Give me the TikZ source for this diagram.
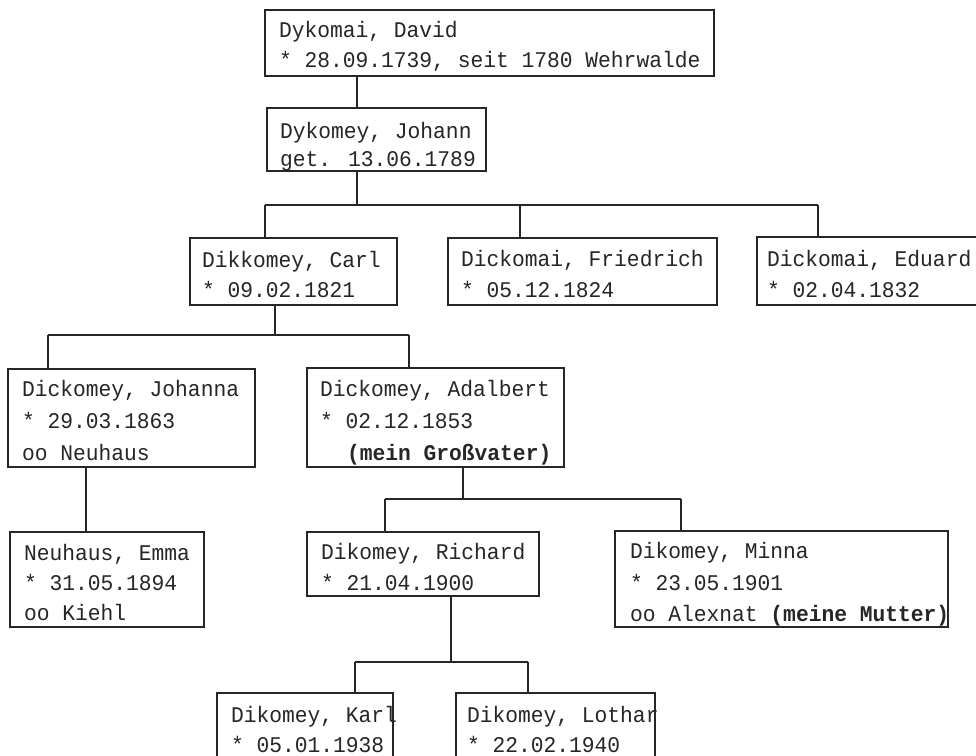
\documentclass[tikz,border=0pt]{standalone}
\usepackage{fontspec}
\newfontfamily\tw[FakeStretch=0.95]{Liberation Mono}
\definecolor{ink}{RGB}{38,38,38}
\tikzset{
  pbox/.style={draw=ink, line width=1.8pt, inner sep=0pt, outer sep=0pt, anchor=north west},
  txt/.style={anchor=base west, inner sep=0pt, outer sep=0pt, text=ink, font=\tw\fontsize{22.4}{26}\selectfont},
  link/.style={draw=ink, line width=1.8pt}
}
\begin{document}
\begin{tikzpicture}[x=1pt,y=-1pt]
\useasboundingbox (0,0) rectangle (976,755);
\fill[white] (0,0) rectangle (976,755);
\begin{scope}
\clip (0,0) rectangle (976,755);
% boxes
\node[pbox, minimum width=449pt, minimum height=66pt] (david) at (265,10) {};
\node[pbox, minimum width=219pt, minimum height=63pt] (johann) at (267,108) {};
\node[pbox, minimum width=207pt, minimum height=67pt] (carl) at (190,238) {};
\node[pbox, minimum width=269pt, minimum height=67pt] (friedrich) at (448,238) {};
\node[pbox, minimum width=225pt, minimum height=68pt] (eduard) at (757,237) {};
\node[pbox, minimum width=247pt, minimum height=98pt] (johanna) at (8,369) {};
\node[pbox, minimum width=257pt, minimum height=99pt] (adalbert) at (307,368) {};
\node[pbox, minimum width=194pt, minimum height=95pt] (emma) at (10,532) {};
\node[pbox, minimum width=232pt, minimum height=64pt] (richard) at (307,532) {};
\node[pbox, minimum width=333pt, minimum height=96pt] (minna) at (615,531) {};
\node[pbox, minimum width=176pt, minimum height=80pt] (karl) at (217,693) {};
\node[pbox, minimum width=199pt, minimum height=80pt] (lothar) at (456,693) {};
% texts
\node[txt] (david1) at (279,37) {Dykomai, David};
\node[txt] (david2) at (279,67) {* 28.09.1739, seit 1780 Wehrwalde};
\node[txt] (johann1) at (280,138) {Dykomey, Johann};
\node[txt] (johann2) at (280,166) {get. 13.06.1789};
\node[txt] (carl1) at (202,267) {Dikkomey, Carl};
\node[txt] (carl2) at (202,297) {* 09.02.1821};
\node[txt] (friedrich1) at (461,266) {Dickomai, Friedrich};
\node[txt] (friedrich2) at (461,297) {* 05.12.1824};
\node[txt] (eduard1) at (767,266) {Dickomai, Eduard};
\node[txt] (eduard2) at (767,297) {* 02.04.1832};
\node[txt] (johanna1) at (22,396) {Dickomey, Johanna};
\node[txt] (johanna2) at (22,428) {* 29.03.1863};
\node[txt] (johanna3) at (22,460) {oo Neuhaus};
\node[txt] (adalbert1) at (320,396) {Dickomey, Adalbert};
\node[txt] (adalbert2) at (320,428) {* 02.12.1853};
\node[txt] (adalbert3) at (347,460) {\bfseries (mein Großvater)};
\node[txt] (emma1) at (24,560) {Neuhaus, Emma};
\node[txt] (emma2) at (24,590) {* 31.05.1894};
\node[txt] (emma3) at (24,620) {oo Kiehl};
\node[txt] (richard1) at (321,559) {Dikomey, Richard};
\node[txt] (richard2) at (321,590) {* 21.04.1900};
\node[txt] (minna1) at (630,558) {Dikomey, Minna};
\node[txt] (minna2) at (630,590) {* 23.05.1901};
\node[txt] (minna3) at (630,621) {oo Alexnat \textbf{(meine Mutter)}};
\node[txt] (karl1) at (231,722) {Dikomey, Karl};
\node[txt] (karl2) at (231,752) {* 05.01.1938};
\node[txt] (lothar1) at (467,722) {Dikomey, Lothar};
\node[txt] (lothar2) at (467,752) {* 22.02.1940};
% bus coordinates
\coordinate (b1) at (357,205);
\coordinate (b1l) at (265,205);
\coordinate (b1m) at (520,205);
\coordinate (b1r) at (818,205);
\coordinate (b2) at (275,335);
\coordinate (b2l) at (48,335);
\coordinate (b2r) at (409,335);
\coordinate (j1) at (86,500);
\coordinate (b3) at (463,499);
\coordinate (b3l) at (385,499);
\coordinate (b3r) at (681,499);
\coordinate (b4) at (451,662);
\coordinate (b4l) at (355,662);
\coordinate (b4r) at (528,662);
% connectors
\draw[link] (david.south -| b1) -- (johann.north -| b1);
\draw[link] (johann.south -| b1) -- (b1);
\draw[link] (b1l) -- (b1r);
\draw[link] (b1l) -- (carl.north -| b1l);
\draw[link] (b1m) -- (friedrich.north -| b1m);
\draw[link] (b1r) -- (eduard.north -| b1r);
\draw[link] (carl.south -| b2) -- (b2);
\draw[link] (b2l) -- (b2r);
\draw[link] (b2l) -- (johanna.north -| b2l);
\draw[link] (b2r) -- (adalbert.north -| b2r);
\draw[link] (johanna.south -| j1) -- (emma.north -| j1);
\draw[link] (adalbert.south -| b3) -- (b3);
\draw[link] (b3l) -- (b3r);
\draw[link] (b3l) -- (richard.north -| b3l);
\draw[link] (b3r) -- (minna.north -| b3r);
\draw[link] (richard.south -| b4) -- (b4);
\draw[link] (b4l) -- (b4r);
\draw[link] (b4l) -- (karl.north -| b4l);
\draw[link] (b4r) -- (lothar.north -| b4r);
\end{scope}
\end{tikzpicture}
\end{document}
